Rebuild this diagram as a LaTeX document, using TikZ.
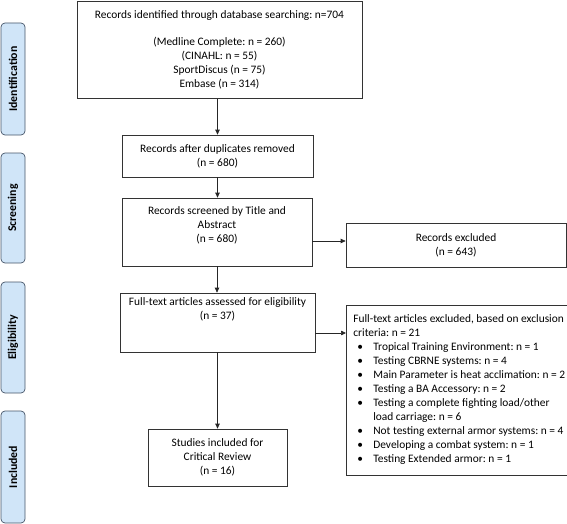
\documentclass[tikz,border=0pt]{standalone}
\usepackage{fontspec}
\setmainfont{Carlito}
\usetikzlibrary{arrows.meta}
\frenchspacing
\newcommand{\hd}[1]{\multicolumn{2}{@{}l@{}}{#1}}
\newcommand{\bl}{\hspace{4pt}\textbullet}
\newcommand{\nbl}{\hspace{4pt}\phantom{\textbullet}}
\begin{document}
\begin{tikzpicture}[x=1pt,y=-1pt,
 box/.style={draw=black!80,line width=0.7pt,align=center,inner sep=0pt,font=\frenchspacing\fontsize{11.4}{14}\selectfont},
 listbox/.style={draw=black!80,line width=0.7pt,inner sep=0pt,inner xsep=7pt,font=\frenchspacing\fontsize{11.4}{14}\selectfont},
 phase/.style={draw={rgb,255:red,70;green,85;blue,105},fill={rgb,255:red,208;green,229;blue,248},rounded corners=4pt,line width=0.7pt,minimum width=24pt,inner sep=0pt,font=\bfseries\fontsize{11.8}{14}\selectfont},
 arr/.style={-{Triangle[length=5pt,width=4.5pt]},line width=0.7pt,black!85}]
\useasboundingbox (0,0) rectangle (567,524);

% phase labels
\node[phase,minimum height=112pt] (pid) at (13,79) {\rotatebox{90}{Identification}};
\node[phase,minimum height=110pt] (psc) at (13,208) {\rotatebox{90}{Screening}};
\node[phase,minimum height=111pt] (pel) at (13,337.5) {\rotatebox{90}{Eligibility}};
\node[phase,minimum height=112pt] (pin) at (13,467) {\rotatebox{90}{Included}};

% boxes
\node[box,minimum width=285pt,minimum height=97pt] (top) at (219.5,50) {Records identified through database searching: n=704\\[13pt](Medline Complete: n = 260)\\(CINAHL: n = 55)\\SportDiscus (n = 75)\\Embase (n = 314)};
\node[box,minimum width=191pt,minimum height=42pt] (dup) at (217.5,156) {Records after duplicates removed\\(n = 680)};
\node[box,minimum width=190pt,minimum height=68pt] (scr) at (217,232) {Records screened by Title and\\Abstract\\(n = 680)\\\mbox{}};
\node[box,minimum width=220pt,minimum height=44pt] (exc) at (456,245) {Records excluded\\(n = 643)};
\node[box,minimum width=195pt,minimum height=59pt] (ft) at (217.5,322.5) {Full-text articles assessed for eligibility\\(n = 37)\\\mbox{}\\\mbox{}};
\node[listbox,minimum width=220pt,minimum height=170pt,anchor=west] (lst) at (346,390) {\begin{tabular}{@{}p{20pt}@{}l@{}}
\hd{Full-text articles excluded, based on exclusion}\\
\hd{criteria: n = 21}\\
\bl & Tropical Training Environment: n = 1\\
\bl & Testing CBRNE systems: n = 4\\
\bl & Main Parameter is heat acclimation: n = 2\\
\bl & Testing a BA Accessory: n = 2\\
\bl & Testing a complete fighting load/other\\
\nbl & load carriage: n = 6\\
\bl & Not testing external armor systems: n = 4\\
\bl & Developing a combat system: n = 1\\
\bl & Testing Extended armor: n = 1
\end{tabular}};
\node[box,minimum width=139pt,minimum height=57pt] (inc) at (217.5,457.5) {Studies included for\\Critical Review\\(n = 16)};

% connectors
\draw[arr] (top.south -| dup.north) -- (dup.north);
\draw[arr] (dup.south) -- (scr.north -| dup.south);
\draw[arr] ([yshift=-9pt]scr.east) -- ([yshift=-9pt]scr.east -| exc.west);
\draw[arr] (scr.south) -- (ft.north -| scr.south);
\draw[arr] ([yshift=-10.5pt]ft.east) -- ([yshift=-10.5pt]ft.east -| lst.west);
\draw[arr] (ft.south) -- (inc.north);
\end{tikzpicture}
\end{document}
